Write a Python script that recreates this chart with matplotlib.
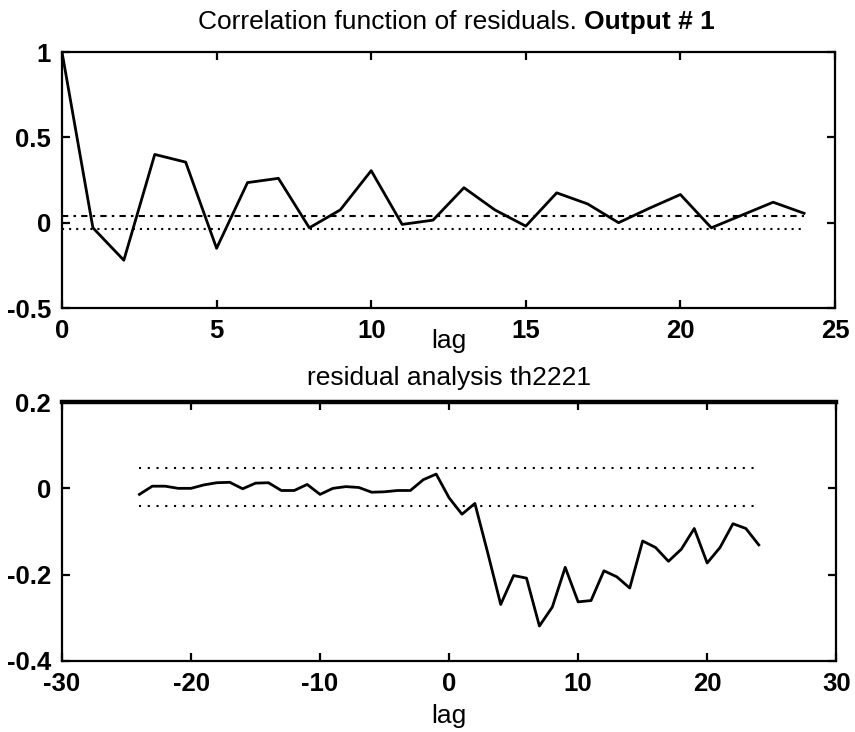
import matplotlib
matplotlib.use("Agg")
import matplotlib.pyplot as plt
import numpy as np

plt.rcParams['font.family'] = ['Liberation Sans', 'DejaVu Sans']

# Autocorrelation of residuals, output 1
acf_lags = list(range(0, 25))
acf_vals = [1.0, -0.03, -0.22, 0.40, 0.355, -0.15, 0.235, 0.26, -0.03, 0.075,
            0.305, -0.01, 0.015, 0.205, 0.075, -0.02, 0.175, 0.11, 0.0, 0.085,
            0.165, -0.03, 0.045, 0.12, 0.055]
acf_conf_hi = 0.04
acf_conf_lo = -0.037

# Cross-correlation between input and residuals
ccf_lags = list(range(-24, 25))
ccf_vals = [-0.014, 0.005, 0.005, 0.0, 0.0, 0.008, 0.013, 0.014, -0.001, 0.012,
            0.013, -0.005, -0.005, 0.009, -0.014, 0.0, 0.004, 0.002, -0.009, -0.008,
            -0.005, -0.005, 0.02, 0.033, -0.022, -0.06, -0.035, -0.15, -0.269, -0.202,
            -0.208, -0.319, -0.275, -0.183, -0.263, -0.26, -0.191, -0.205, -0.231, -0.122,
            -0.137, -0.169, -0.141, -0.093, -0.173, -0.137, -0.082, -0.093, -0.131]
ccf_conf_hi = 0.047
ccf_conf_lo = -0.041

top_xticks = [0, 5, 10, 15, 20, 25]
top_yticks = [-0.5, 0, 0.5, 1]
top_yticklabels = ['-0.5', '0', '0.5', '1']
bot_xticks = [-30, -20, -10, 0, 10, 20, 30]
bot_yticks = [-0.4, -0.2, 0, 0.2]
bot_yticklabels = ['-0.4', '-0.2', '0', '0.2']

TICK_FS = 18.5
TEXT_FS = 19

fig = plt.figure(figsize=(8.55, 7.32), dpi=100)
ax1 = fig.add_axes([0.0725, 0.5792, 0.9041, 0.3497])
ax2 = fig.add_axes([0.0725, 0.0970, 0.9055, 0.3538])

def style(ax):
    for s in ax.spines.values():
        s.set_linewidth(1.6)
        s.set_color('black')
    ax.tick_params(direction='in', length=6, width=1.6, top=True, right=True,
                   labelsize=TICK_FS, pad=8)
    for lab in ax.get_xticklabels() + ax.get_yticklabels():
        lab.set_fontweight('bold')

# Top panel
ax1.plot(acf_lags, acf_vals, color='black', lw=2.0)
ax1.plot([acf_lags[0], acf_lags[-1]], [acf_conf_hi, acf_conf_hi], color='black',
         lw=1.5, ls=(0, (3, 2.5, 1.2, 2.5)))
ax1.plot([acf_lags[0], acf_lags[-1]], [acf_conf_lo, acf_conf_lo], color='black',
         lw=1.5, ls=(0, (1, 2.4)))
ax1.set_xlim(0, 25)
ax1.set_ylim(-0.5, 1)
ax1.set_xticks(top_xticks)
ax1.set_xticklabels([str(t) for t in top_xticks])
ax1.set_yticks(top_yticks)
ax1.set_yticklabels(top_yticklabels)
style(ax1)
ax1.set_xlabel('lag', fontsize=TEXT_FS, labelpad=-10)

# Bottom panel
ax2.plot(ccf_lags, ccf_vals, color='black', lw=2.0)
ax2.plot([ccf_lags[0], ccf_lags[-1]], [ccf_conf_hi, ccf_conf_hi], color='black',
         lw=1.5, ls=(0, (1, 3.2)))
ax2.plot([ccf_lags[0], ccf_lags[-1]], [ccf_conf_lo, ccf_conf_lo], color='black',
         lw=1.5, ls=(0, (1, 3.2)))
ax2.set_xlim(-30, 30)
ax2.set_ylim(-0.4, 0.2)
ax2.set_xticks(bot_xticks)
ax2.set_xticklabels([str(t) for t in bot_xticks])
ax2.set_yticks(bot_yticks)
ax2.set_yticklabels(bot_yticklabels)
style(ax2)
ax2.spines['top'].set_linewidth(3.2)
ax2.set_xlabel('lag', fontsize=TEXT_FS, labelpad=6)
ax2.set_title('residual analysis th2221', fontsize=TEXT_FS, pad=12)

# Top title: plain text followed by a bold output tag, centred as a whole
part_a = 'Correlation function of residuals. '
part_b = 'Output # 1'
fig.canvas.draw()
r = fig.canvas.get_renderer()
ta = fig.text(0, 0, part_a, fontsize=TEXT_FS)
tb = fig.text(0, 0, part_b, fontsize=TEXT_FS, fontweight='bold')
wa = ta.get_window_extent(r).width
wb = tb.get_window_extent(r).width
W = fig.bbox.width
cx = 456.0
x0 = cx - (wa + wb) / 2
ytxt = 1 - 29 / 732
ta.set_position((x0 / W, ytxt))
tb.set_position(((x0 + wa) / W, ytxt))

fig.savefig('out.png', dpi=100)
